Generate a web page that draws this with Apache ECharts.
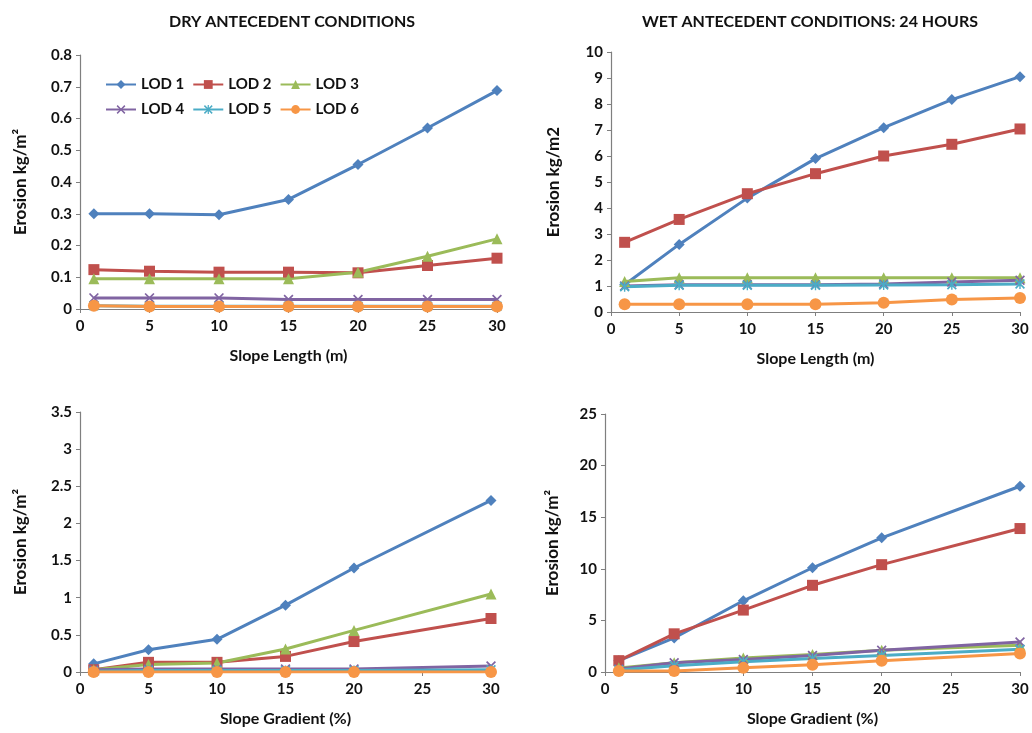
<!DOCTYPE html>
<html>
<head>
<meta charset="utf-8">
<script src="https://cdn.jsdelivr.net/npm/echarts@6/dist/echarts.min.js"></script>
<style>
html,body{margin:0;padding:0;background:#fff;}
#c{width:1032px;height:733px;}
</style>
</head>
<body>
<div id="c"></div>
<script>
// ---- data ----
const seriesNames = ['LOD 1','LOD 2','LOD 3','LOD 4','LOD 5','LOD 6'];
const lengthX = [1,5,10,15,20,25,30];
const gradientX = [1,5,10,15,20,30];

// Dry antecedent conditions, slope length
const dryLen1 = [0.300,0.300,0.297,0.345,0.455,0.570,0.688];
const dryLen2 = [0.124,0.119,0.116,0.116,0.114,0.137,0.160];
const dryLen3 = [0.095,0.095,0.095,0.095,0.116,0.166,0.221];
const dryLen4 = [0.035,0.035,0.035,0.030,0.030,0.030,0.030];
const dryLen5 = [0.010,0.009,0.009,0.009,0.009,0.009,0.009];
const dryLen6 = [0.010,0.008,0.008,0.008,0.008,0.008,0.008];

// Wet antecedent conditions 24 h, slope length
const wetLen1 = [1.05,2.60,4.38,5.90,7.09,8.17,9.05];
const wetLen2 = [2.68,3.56,4.55,5.32,6.00,6.45,7.04];
const wetLen3 = [1.17,1.32,1.32,1.32,1.32,1.32,1.32];
const wetLen4 = [1.00,1.05,1.05,1.05,1.08,1.15,1.22];
const wetLen5 = [0.97,1.03,1.03,1.03,1.04,1.05,1.08];
const wetLen6 = [0.30,0.30,0.30,0.30,0.36,0.48,0.54];

// Dry antecedent conditions, slope gradient
const dryGrad1 = [0.11,0.30,0.44,0.90,1.40,2.31];
const dryGrad2 = [0.03,0.13,0.13,0.21,0.41,0.72];
const dryGrad3 = [0.03,0.10,0.12,0.31,0.56,1.05];
const dryGrad4 = [0.03,0.04,0.04,0.04,0.04,0.08];
const dryGrad5 = [0.01,0.02,0.02,0.02,0.02,0.03];
const dryGrad6 = [0.00,0.00,0.00,0.00,0.00,0.00];

// Wet antecedent conditions, slope gradient
const wetGrad1 = [1.1,3.3,6.9,10.1,13.0,18.0];
const wetGrad2 = [1.1,3.7,6.0,8.4,10.4,13.9];
const wetGrad3 = [0.4,0.9,1.35,1.7,2.1,2.6];
const wetGrad4 = [0.3,0.9,1.2,1.6,2.1,2.9];
const wetGrad5 = [0.2,0.6,1.0,1.3,1.6,2.2];
const wetGrad6 = [0.1,0.1,0.4,0.7,1.1,1.8];

const panelTitles = ['DRY ANTECEDENT CONDITIONS','WET ANTECEDENT CONDITIONS: 24 HOURS'];
const xNames = ['Slope Length (m)','Slope Gradient (%)'];
const yNames = ['Erosion kg/m\u00B2','Erosion kg/m2','Erosion kg/m\u00B2','Erosion kg/m\u00B2'];

// ---- styles ----
const colors = ['#4F81BD','#C0504D','#9BBB59','#8064A2','#4BACC6','#F79646'];
const xShape = 'path://M0,1.2L1.2,0L5,3.8L8.8,0L10,1.2L6.2,5L10,8.8L8.8,10L5,6.2L1.2,10L0,8.8L3.8,5Z';
const starShape = 'path://M0,1.2L1.2,0L5,3.8L8.8,0L10,1.2L6.2,5L10,8.8L8.8,10L5,6.2L1.2,10L0,8.8L3.8,5Z M4.3,0L5.7,0L5.7,10L4.3,10Z';
const symbols = ['diamond','rect','triangle',xShape,starShape,'circle'];
const symSizes = [11,11,11,10,10,12];
const FONT = 'Lato';

const chart = echarts.init(document.getElementById('c'));

const grids = [
  {left:80, right:535, top:55, bottom:424},
  {left:611, right:12, top:52, bottom:421},
  {left:80, right:541, top:412, bottom:61},
  {left:605, right:12, top:414, bottom:61}
];
const yRanges = [[0,0.8,0.1],[0,10,1],[0,3.5,0.5],[0,25,5]];
const yGaps = [51,49,51,44];

const axisLine = {show:true, lineStyle:{color:'#7f7f7f', width:1.2}};
const axisTick = {show:true, inside:false, length:4, lineStyle:{color:'#7f7f7f', width:1}};
const labelStyle = {color:'#111', fontFamily:FONT, fontWeight:'bold', fontSize:15};

const xAxes = grids.map((g,i)=>({
  type:'value', gridIndex:i, min:0, max:30, interval:5,
  name: xNames[i<2?0:1], nameLocation:'middle', nameGap:39,
  nameTextStyle:{color:'#111', fontFamily:FONT, fontWeight:'bold', fontSize:16},
  axisLine, axisTick, splitLine:{show:false},
  axisLabel:Object.assign({margin:10}, labelStyle)
}));
const yAxes = grids.map((g,i)=>({
  type:'value', gridIndex:i, min:yRanges[i][0], max:yRanges[i][1], interval:yRanges[i][2],
  name: yNames[i], nameLocation:'middle', nameGap:yGaps[i], nameRotate:90,
  nameTextStyle:{color:'#111', fontFamily:FONT, fontWeight:'bold', fontSize:17},
  axisLine, axisTick, splitLine:{show:false},
  axisLabel:Object.assign({margin:8}, labelStyle)
}));

const panelData = [
  [dryLen1,dryLen2,dryLen3,dryLen4,dryLen5,dryLen6],
  [wetLen1,wetLen2,wetLen3,wetLen4,wetLen5,wetLen6],
  [dryGrad1,dryGrad2,dryGrad3,dryGrad4,dryGrad5,dryGrad6],
  [wetGrad1,wetGrad2,wetGrad3,wetGrad4,wetGrad5,wetGrad6]
];

const series = [];
panelData.forEach((sets,p)=>{
  const xs = p<2 ? lengthX : gradientX;
  sets.forEach((vals,k)=>{
    series.push({
      type:'line', name:seriesNames[k], xAxisIndex:p, yAxisIndex:p,
      data: xs.map((x,j)=>[x, vals[j]]),
      color: colors[k],
      symbol: symbols[k], symbolSize: symSizes[k], showSymbol:true,
      lineStyle:{width:3, color:colors[k]},
      itemStyle:{color:colors[k]},
      animation:false, silent:true
    });
  });
});

const legendCommon = {
  left:100, itemWidth:30, itemHeight:11, itemGap:8, orient:'horizontal',
  textStyle:{color:'#111', fontFamily:FONT, fontWeight:'bold', fontSize:15, width:55},
  selectedMode:false
};

chart.setOption({
  backgroundColor:'#fff',
  title:[
    {text:panelTitles[0], left:287, top:9, textAlign:'center',
     textStyle:{color:'#111', fontFamily:FONT, fontWeight:'bold', fontSize:16}},
    {text:panelTitles[1], left:805, top:9, textAlign:'center',
     textStyle:{color:'#111', fontFamily:FONT, fontWeight:'bold', fontSize:16}}
  ],
  legend:[
    Object.assign({top:72, data:seriesNames.slice(0,3)}, legendCommon),
    Object.assign({top:97, data:seriesNames.slice(3,6)}, legendCommon)
  ],
  grid: grids,
  xAxis: xAxes,
  yAxis: yAxes,
  series: series
});
</script>
</body>
</html>
